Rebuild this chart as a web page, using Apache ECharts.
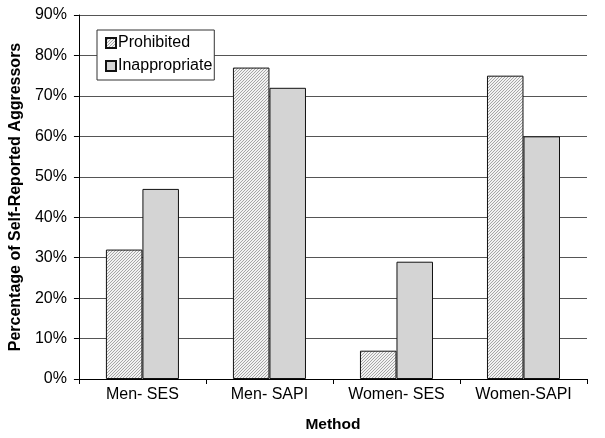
<!DOCTYPE html>
<html>
<head>
<meta charset="utf-8">
<script src="https://cdn.jsdelivr.net/npm/echarts@6/dist/echarts.min.js"></script>
<style>
  html, body { margin: 0; padding: 0; background: #fff; }
  #chart { width: 605px; height: 438px; }
</style>
</head>
<body>
<div id="chart"></div>
<script>
const categories = ["Men- SES", "Men- SAPI", "Women- SES", "Women-SAPI"];
const prohibited = [32, 77, 7, 75];
const inappropriate = [47, 72, 29, 60];
const seriesNames = ["Prohibited", "Inappropriate"];

// fine diagonal hatch for the "Prohibited" bars
function hatch() {
  const c = document.createElement("canvas");
  c.width = 3;
  c.height = 3;
  const ctx = c.getContext("2d");
  ctx.fillStyle = "#f2f2f2";
  ctx.fillRect(0, 0, 3, 3);
  ctx.fillStyle = "#a6a6a6";
  ctx.fillRect(2, 0, 1, 1);
  ctx.fillRect(1, 1, 1, 1);
  ctx.fillRect(0, 2, 1, 1);
  return c;
}

const chart = echarts.init(document.getElementById("chart"), null, { renderer: "canvas" });

const font = "Arial, 'Liberation Sans', sans-serif";

const option = {
  animation: false,
  backgroundColor: "#fff",
  textStyle: { fontFamily: font, color: "#000" },
  grid: { left: 78.5, right: 18, top: 15, bottom: 58 },
  legend: {
    orient: "vertical",
    left: 97,
    top: 30,
    padding: [4, 2, 5, 8],
    itemGap: 5,
    itemWidth: 10,
    itemHeight: 10,
    icon: "rect",
    borderColor: "#333",
    borderWidth: 1,
    backgroundColor: "#fff",
    textStyle: { fontSize: 16, lineHeight: 18, color: "#000", fontFamily: font, padding: [0, 0, 0, -3] },
    data: seriesNames
  },
  xAxis: {
    type: "category",
    data: categories,
    name: "Method",
    nameLocation: "middle",
    nameGap: 38,
    nameTextStyle: { fontSize: 15.5, fontWeight: "bold", color: "#000" },
    axisLine: { lineStyle: { color: "#000" } },
    axisTick: { show: true, length: 5, lineStyle: { color: "#000" } },
    axisLabel: { fontSize: 16, color: "#000", margin: 8 }
  },
  yAxis: {
    type: "value",
    min: 0,
    max: 90,
    interval: 10,
    name: "Percentage of Self-Reported Aggressors",
    nameLocation: "middle",
    nameGap: 48,
    nameTextStyle: { fontSize: 16, fontWeight: "bold", color: "#000" },
    axisLine: { show: true, lineStyle: { color: "#000" } },
    axisTick: { show: true, length: 5, lineStyle: { color: "#000" } },
    axisLabel: { fontSize: 16, color: "#000", margin: 12, formatter: "{value}%" },
    splitLine: { lineStyle: { color: "#555", width: 1 } }
  },
  series: [
    {
      name: seriesNames[0],
      type: "bar",
      data: prohibited,
      barGap: "0%",
      barCategoryGap: "42.5%",
      itemStyle: {
        color: { image: hatch(), repeat: "repeat" },
        borderColor: "#111",
        borderWidth: 1
      }
    },
    {
      name: seriesNames[1],
      type: "bar",
      data: inappropriate,
      barGap: "0%",
      barCategoryGap: "42.5%",
      itemStyle: {
        color: "#d4d4d4",
        borderColor: "#111",
        borderWidth: 1
      }
    }
  ]
};

chart.setOption(option);
</script>
</body>
</html>
